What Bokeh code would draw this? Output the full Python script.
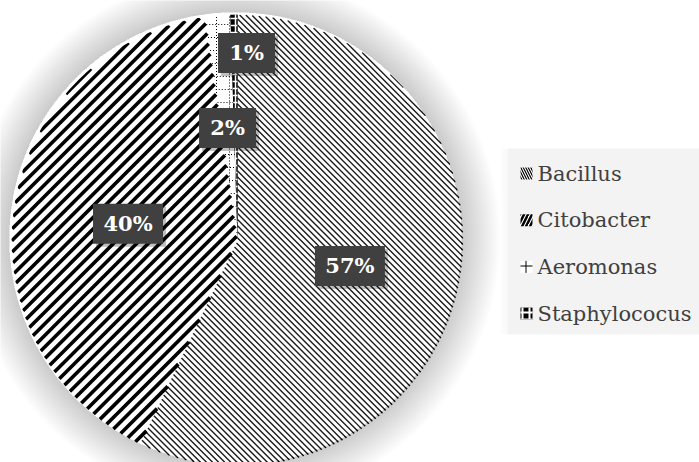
import numpy as np
from bokeh.plotting import figure
from bokeh.models import ColumnDataSource, Range1d
from bokeh.core.properties import value
from bokeh.embed import file_html
from bokeh.resources import INLINE

# ---- data ----
names = ["Bacillus", "Citobacter", "Aeromonas", "Staphylococus"]
shares = [57.1, 40.6, 1.8, 0.5]
labels = ["57%", "40%", "2%", "1%"]

# ---- styles ----
LABEL_FONT = "DejaVu Serif"
LEGEND_FONT = "DejaVu Serif"
# stripe families: (direction in degrees, spacing px, width px, color, dash)
stripes = [
    [(-45, 4.3, 1.4, "#1a1a1a", "solid")],
    [(45, 8.2, 3.6, "black", "solid")],
    [(90, 13, 1.0, "black", "1 2"), (0, 13, 1.0, "black", "1 2")],
    [],
]
label_rfrac = [0.51, 0.49, 0.50, 0.83]
label_xoff = [0, 0, 0, 12]
box_w = [70, 70, 57, 57]
box_h = 40

W, H = 699, 462
cx, cy, R = 237, H - 240, 226

frac = np.array(shares) / sum(shares)
cum = np.concatenate([[0], np.cumsum(frac)])
start = np.pi / 2 - cum[:-1] * 2 * np.pi
end = np.pi / 2 - cum[1:] * 2 * np.pi
mid = (start + end) / 2


def sector_stripes(a0, a1, ang_deg, spacing):
    """Segments of a family of parallel lines clipped to the sector a0 -> a1 (clockwise)."""
    th = np.radians(ang_deg)
    d = np.array([np.cos(th), np.sin(th)])
    n = np.array([-d[1], d[0]])
    t = np.arange(-R - 1, R + 1, 0.25)
    xs, ys = [], []
    for c in np.arange(-R, R + spacing, spacing):
        px = cx + n[0] * c + d[0] * t
        py = cy + n[1] * c + d[1] * t
        rr = np.hypot(px - cx, py - cy)
        diff = np.mod(a0 - np.arctan2(py - cy, px - cx), 2 * np.pi)
        inside = (rr <= R - 0.3) & (diff <= (a0 - a1))
        edge = np.diff(np.concatenate([[0], inside.astype(int), [0]]))
        for s, e in zip(np.where(edge == 1)[0], np.where(edge == -1)[0]):
            xs.append([px[s], px[e - 1]])
            ys.append([py[s], py[e - 1]])
    return xs, ys


p = figure(width=W, height=H, x_range=Range1d(0, W), y_range=Range1d(0, H),
           output_backend="svg", toolbar_location=None, min_border=0)
p.axis.visible = False
p.grid.visible = False
p.outline_line_color = None
p.background_fill_color = "white"
p.border_fill_color = "white"

fills = ["white", "white", "white", "black"]
src = ColumnDataSource(dict(name=names, start=start, end=end, fill=fills))
p.wedge(x=cx, y=cy, radius=R, start_angle="start", end_angle="end",
        direction="clock", fill_color="fill", line_color=None, source=src)
# Staphylococus: black with white checks
p.wedge(x=cx, y=cy, radius=R, start_angle=start[3], end_angle=end[3],
        direction="clock", fill_color="black", line_color=None,
        hatch_pattern="+", hatch_color="white", hatch_scale=7, hatch_weight=1.5)

for i, fams in enumerate(stripes):
    for ang, sp, lw, col, dash in fams:
        xs, ys = sector_stripes(start[i], end[i], ang, sp)
        p.multi_line(xs=xs, ys=ys, line_color=col, line_width=lw, line_dash=dash)

# clean rim, then soft shadow glow around the pie
p.annulus(x=cx, y=cy, inner_radius=R, outer_radius=R + 60, fill_color="white", line_color=None)
for k in range(26, 0, -1):
    p.annulus(x=cx - 2, y=cy + 2, inner_radius=R, outer_radius=R + 1.5 * k,
              fill_color="black", fill_alpha=0.0075, line_color=None)

# data labels
lx = cx + np.array(label_rfrac) * R * np.cos(mid) + np.array(label_xoff)
ly = cy + np.array(label_rfrac) * R * np.sin(mid)
lsrc = ColumnDataSource(dict(x=lx, y=ly, sx=lx + 3, sy=ly - 3, w=box_w, t=labels))
p.rect(x="sx", y="sy", width="w", height=box_h, fill_color="black",
       fill_alpha=0.25, line_color=None, source=lsrc)
p.rect(x="x", y="y", width="w", height=box_h, fill_color="#404040",
       line_color=None, source=lsrc)
p.text(x="x", y="y", text="t", text_font=value(LABEL_FONT),
       text_font_style="bold", text_font_size="21px", text_color="white",
       text_align="center", text_baseline="middle", source=lsrc)

# legend (drawn manually)
lg_left, lg_right, lg_top, lg_bottom = 507, W, H - 148, H - 334
row0, pitch = H - 173, 46.7
for k in range(8):
    p.quad(left=[499 + k], right=[lg_left], bottom=[lg_bottom], top=[lg_top],
           fill_color="black", fill_alpha=0.005, line_color=None)
p.quad(left=[lg_left], right=[lg_right], bottom=[lg_bottom], top=[lg_top],
       fill_color="#f3f3f3", line_color=None)
idx = np.arange(len(names))
gy = row0 - idx * pitch
sw_fill = ["white", "white", "white", "black"]
sw_hatch = ["\\", "/", "+", "+"]
sw_hcol = ["black", "black", "black", "white"]
sw_scale = [5, 8, 10, 7]
sw_weight = [1.2, 2.5, 1, 2]
lgsrc = ColumnDataSource(dict(x=np.full(len(names), 526.0), y=gy, tx=np.full(len(names), 537.0),
                              t=names, fill=sw_fill, hatch=sw_hatch, hcol=sw_hcol,
                              hs=sw_scale, hw=sw_weight))
p.rect(x="x", y="y", width=12, height=12, fill_color="fill", line_color=None,
       hatch_pattern="hatch", hatch_color="hcol", hatch_scale="hs", hatch_weight="hw",
       source=lgsrc)
p.text(x="tx", y="y", text="t", text_font=value(LEGEND_FONT), text_font_size="21px",
       text_color="#404040", text_align="left", text_baseline="middle", source=lgsrc)

open("out.html", "w").write(file_html(p, INLINE))
